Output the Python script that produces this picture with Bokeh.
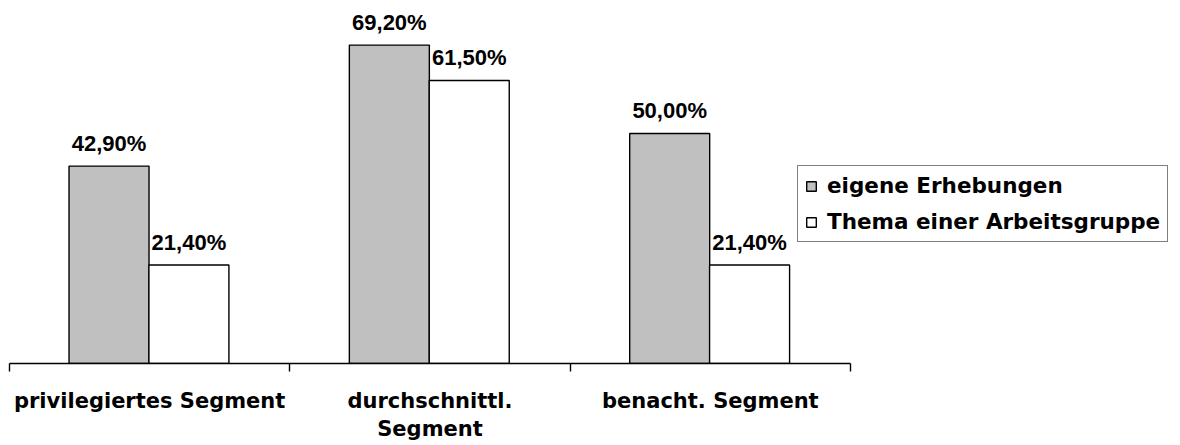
from bokeh.plotting import figure
from bokeh.models import (Range1d, FixedTicker, LinearAxis, Legend, LegendItem,
                          ColumnDataSource)
from bokeh.core.properties import value
from bokeh.embed import file_html
from bokeh.resources import INLINE

# ---- data ----
categories = ["privilegiertes Segment", "durchschnittl.\nSegment", "benacht. Segment"]
series_names = ["eigene Erhebungen", "Thema einer Arbeitsgruppe"]
eigene = [42.9, 69.2, 50.0]
thema = [21.4, 61.5, 21.4]

LAB_FONT = "Liberation Sans"
TXT_FONT = "DejaVu Sans"
px_per_unit = 841 / 3.0
frame_w = 1171
frame_h = 363
y_end = frame_h / 4.601

p = figure(frame_width=frame_w, frame_height=frame_h,
           output_backend="svg", toolbar_location=None,
           x_range=Range1d(0, frame_w / px_per_unit), y_range=Range1d(0, y_end),
           x_axis_location=None, y_axis_location=None,
           min_border_left=9, min_border_right=0, min_border_top=0, min_border_bottom=0)
p.outline_line_color = None
p.grid.visible = False
p.background_fill_color = "white"
p.border_fill_color = "white"

n = len(categories)
bw = 80 / px_per_unit
x_e = [i + 0.355 for i in range(n)]
x_t = [i + 0.640 for i in range(n)]

src_e = ColumnDataSource(dict(x=x_e, top=eigene,
                              lab=[f"{v:.2f}".replace(".", ",") + "%" for v in eigene]))
src_t = ColumnDataSource(dict(x=x_t, top=thema,
                              lab=[f"{v:.2f}".replace(".", ",") + "%" for v in thema]))

r_e = p.vbar(x="x", top="top", bottom=0, width=bw, source=src_e,
             fill_color="#C0C0C0", line_color="black", line_width=1.4)
r_t = p.vbar(x="x", top="top", bottom=0, width=bw, source=src_t,
             fill_color="white", line_color="black", line_width=1.4)

for src in (src_e, src_t):
    p.text(x="x", y="top", text="lab", source=src, text_align="center",
           text_baseline="alphabetic", y_offset=-23,
           text_font=value(LAB_FONT), text_font_style="bold", text_font_size="22px",
           text_color="black")

# x axis: boundary ticks as minor ticks, labels at centres
axis = LinearAxis(bounds=(0, n))
axis.ticker = FixedTicker(ticks=[i + 0.5 for i in range(n)],
                          minor_ticks=list(range(n + 1)))
axis.major_label_overrides = {i + 0.5: c for i, c in enumerate(categories)}
axis.major_tick_line_color = None
axis.major_tick_out = 0
axis.major_tick_in = 0
axis.minor_tick_out = 8
axis.minor_tick_in = 0
axis.minor_tick_line_color = "black"
axis.minor_tick_line_width = 1.4
axis.axis_line_color = "black"
axis.axis_line_width = 1.4
axis.major_label_standoff = 17
axis.major_label_text_font = TXT_FONT
axis.major_label_text_font_style = "bold"
axis.major_label_text_font_size = "21px"
axis.major_label_text_color = "black"
p.add_layout(axis, "below")

legend = Legend(items=[LegendItem(label=series_names[0], renderers=[r_e]),
                       LegendItem(label=series_names[1], renderers=[r_t])],
                location=(788, 121), margin=0, padding=7, spacing=11,
                glyph_width=12, glyph_height=12, label_standoff=10,
                label_width=0, label_height=25,
                border_line_color="black", border_line_width=1.4,
                background_fill_color="white", background_fill_alpha=1.0,
                label_text_font=TXT_FONT, label_text_font_style="bold",
                label_text_font_size="21.5px", label_text_color="black")
p.add_layout(legend)

open("out.html", "w").write(file_html(p, INLINE))
